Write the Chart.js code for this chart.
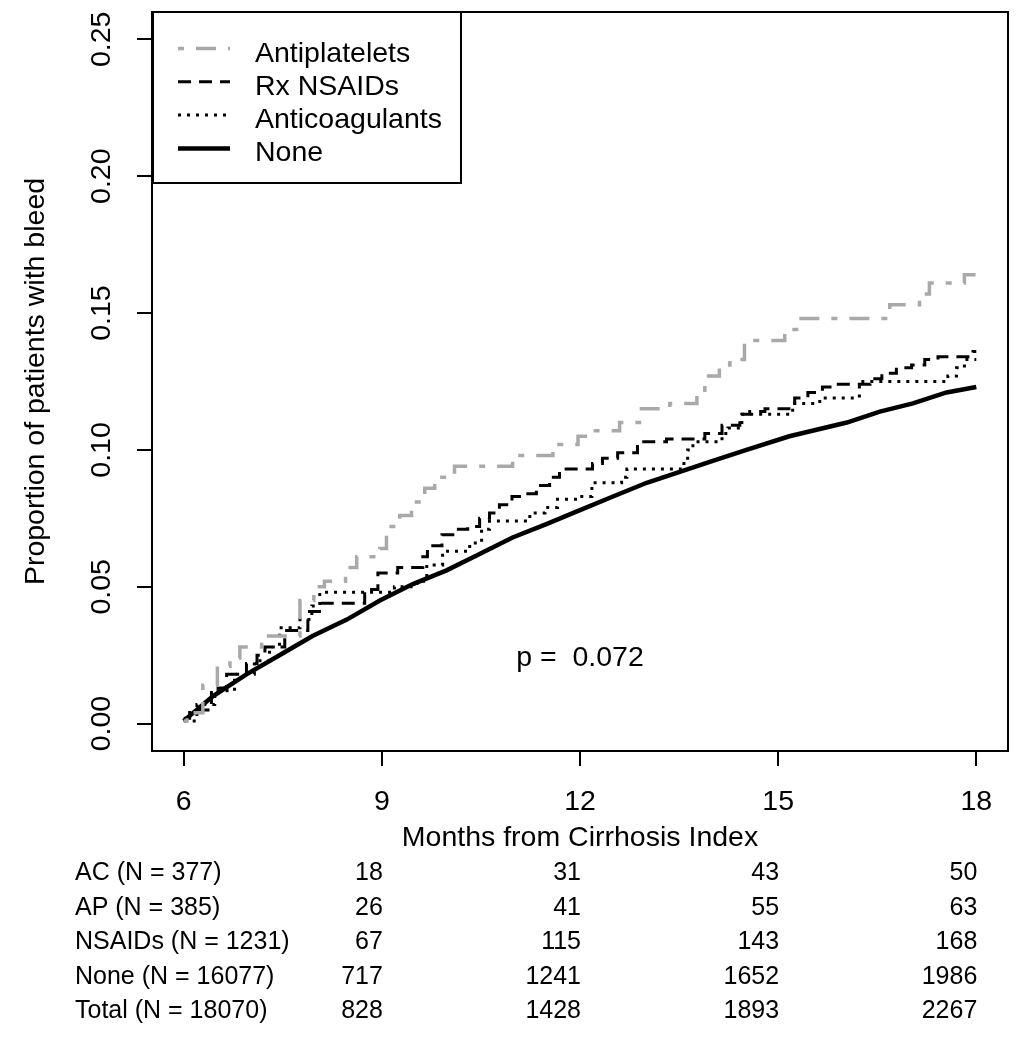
<!DOCTYPE html>
<html>
<head>
<meta charset="utf-8">
<title>Proportion of patients with bleed</title>
<script src="https://cdn.jsdelivr.net/npm/chart.js@4.4.1/dist/chart.umd.min.js"></script>
<style>
  html, body { margin: 0; padding: 0; background: #fff; }
  canvas { display: block; }
</style>
</head>
<body>
<canvas id="bleedChart" width="1017" height="1050"></canvas>
<script>
// step curves (months from index, proportion with bleed)
var apMonths = [6.00, 6.05, 6.29, 6.51, 6.70, 6.85, 7.18, 7.76, 7.97, 8.13, 8.45, 8.62, 8.97, 9.07, 9.27, 9.45, 9.65, 9.80, 10.10, 10.98, 11.59, 11.97, 12.15, 12.60, 12.90, 13.36, 13.77, 13.89, 14.11, 14.27, 14.49, 15.10, 15.28, 16.69, 17.14, 17.29, 17.82, 18.00];
var apValues = [0.001, 0.004, 0.014, 0.021, 0.024, 0.028, 0.032, 0.045, 0.050, 0.052, 0.057, 0.061, 0.064, 0.072, 0.076, 0.081, 0.086, 0.090, 0.094, 0.098, 0.102, 0.105, 0.107, 0.110, 0.115, 0.117, 0.120, 0.127, 0.131, 0.133, 0.140, 0.144, 0.148, 0.153, 0.157, 0.161, 0.164, 0.164];

var nsMonths = [6.00, 6.09, 6.42, 6.65, 6.95, 7.11, 7.23, 7.53, 7.88, 8.10, 8.74, 8.94, 9.24, 9.62, 9.69, 9.91, 10.10, 10.30, 10.48, 10.63, 10.78, 10.97, 11.21, 11.34, 11.54, 11.69, 12.19, 12.34, 12.57, 12.87, 13.31, 13.89, 14.15, 14.42, 14.57, 14.80, 15.25, 15.45, 15.67, 15.86, 16.39, 16.57, 16.79, 17.02, 17.22, 17.42, 17.95, 18.00];
var nsValues = [0.002, 0.005, 0.013, 0.018, 0.022, 0.025, 0.028, 0.034, 0.041, 0.044, 0.049, 0.055, 0.057, 0.061, 0.065, 0.069, 0.071, 0.072, 0.075, 0.077, 0.080, 0.083, 0.084, 0.087, 0.090, 0.093, 0.095, 0.097, 0.099, 0.103, 0.104, 0.106, 0.109, 0.113, 0.114, 0.115, 0.119, 0.121, 0.123, 0.124, 0.126, 0.128, 0.130, 0.131, 0.133, 0.134, 0.136, 0.136];

var acMonths = [6.00, 6.20, 6.47, 6.77, 7.07, 7.30, 7.45, 7.76, 7.94, 8.06, 9.19, 9.53, 9.68, 9.92, 10.33, 10.51, 10.63, 11.24, 11.47, 11.66, 12.00, 12.18, 12.63, 12.71, 13.54, 13.63, 13.71, 14.15, 14.24, 14.45, 15.22, 15.63, 16.23, 17.57, 17.70, 17.82, 18.00];
var acValues = [0.001, 0.007, 0.012, 0.018, 0.023, 0.028, 0.035, 0.038, 0.043, 0.048, 0.050, 0.052, 0.058, 0.063, 0.066, 0.071, 0.074, 0.077, 0.079, 0.082, 0.083, 0.088, 0.090, 0.093, 0.095, 0.100, 0.103, 0.106, 0.108, 0.113, 0.117, 0.119, 0.125, 0.127, 0.130, 0.133, 0.133];

var noneMonths = [6.00, 6.44, 6.95, 7.45, 7.95, 8.47, 8.97, 9.47, 9.98, 10.48, 10.98, 11.50, 12.00, 12.50, 13.01, 13.51, 14.01, 14.52, 15.17, 16.04, 16.54, 17.04, 17.55, 18.00];
var noneValues = [0.001, 0.010, 0.018, 0.025, 0.032, 0.038, 0.045, 0.051, 0.056, 0.062, 0.068, 0.073, 0.078, 0.083, 0.088, 0.092, 0.096, 0.100, 0.105, 0.110, 0.114, 0.117, 0.121, 0.123];

var xTicks = [6, 9, 12, 15, 18];
var yTicks = [0, 0.05, 0.10, 0.15, 0.20, 0.25];

// numbers at risk table under the plot
var riskTimes = [9, 12, 15, 18];
var riskLabels = ["AC (N = 377)", "AP (N = 385)", "NSAIDs (N = 1231)", "None (N = 16077)", "Total (N = 18070)"];
var riskAC = [18, 31, 43, 50];
var riskAP = [26, 41, 55, 63];
var riskNSAIDs = [67, 115, 143, 168];
var riskNone = [717, 1241, 1652, 1986];
var riskTotal = [828, 1428, 1893, 2267];

var pText = "p =  0.072";
var pAt = [12, 0.024];

var FONT = '"Liberation Sans", Arial, sans-serif';
Chart.defaults.font.family = FONT;
Chart.defaults.color = '#000';

function toPoints(months, values) {
    return months.map(function (m, i) { return { x: m, y: values[i] }; });
}

var extras = {
    id: 'extras',
    afterDraw: function (chart) {
        var ctx = chart.ctx, area = chart.chartArea;
        var xs = chart.scales.x, ys = chart.scales.y;
        ctx.save();

        // box round the plot region
        ctx.strokeStyle = '#000';
        ctx.lineWidth = 2;
        ctx.setLineDash([]);
        ctx.strokeRect(area.left, area.top, area.right - area.left, area.bottom - area.top);

        // y tick labels, turned like R does them
        ctx.fillStyle = '#000';
        ctx.font = '28.5px ' + FONT;
        ctx.textAlign = 'center';
        ctx.textBaseline = 'alphabetic';
        yTicks.forEach(function (v) {
            ctx.save();
            ctx.translate(110, ys.getPixelForValue(v));
            ctx.rotate(-Math.PI / 2);
            ctx.fillText(v.toFixed(2), 0, 0);
            ctx.restore();
        });

        // p value
        ctx.textBaseline = 'middle';
        ctx.fillText(pText, xs.getPixelForValue(pAt[0]), ys.getPixelForValue(pAt[1]));

        // legend box in the top left corner
        var bx = area.left + 1, by = area.top, bw = 308, bh = 171;
        ctx.fillStyle = '#fff';
        ctx.fillRect(bx, by, bw, bh);
        ctx.strokeStyle = '#000';
        ctx.lineWidth = 2;
        ctx.strokeRect(bx, by, bw, bh);
        ctx.textAlign = 'left';
        ctx.textBaseline = 'alphabetic';
        chart.data.datasets.forEach(function (ds, i) {
            var base = 61.5 + 33.3 * i;
            ctx.strokeStyle = ds.borderColor;
            ctx.lineWidth = ds.borderWidth;
            ctx.setLineDash(ds.borderDash || []);
            ctx.beginPath();
            ctx.moveTo(178, base - 13);
            ctx.lineTo(230, base - 13);
            ctx.stroke();
            ctx.setLineDash([]);
            ctx.fillStyle = '#000';
            ctx.fillText(ds.label, 255, base);
        });

        // numbers at risk
        var rows = [riskAC, riskAP, riskNSAIDs, riskNone, riskTotal];
        ctx.font = '25px ' + FONT;
        ctx.fillStyle = '#000';
        rows.forEach(function (row, r) {
            var base = 880 + 34.5 * r;
            ctx.textAlign = 'left';
            ctx.fillText(riskLabels[r], 75, base);
            ctx.textAlign = 'right';
            row.forEach(function (n, c) {
                ctx.fillText(String(n), xs.getPixelForValue(riskTimes[c]) + 1, base);
            });
        });

        ctx.restore();
    }
};

new Chart("bleedChart", {
    type: 'line',
    data: {
        datasets: [
            {
                label: "Antiplatelets",
                data: toPoints(apMonths, apValues),
                stepped: true,
                borderColor: "#a9a9a9",
                borderWidth: 3.5,
                borderDash: [6, 12, 20, 12],
                pointRadius: 0,
                fill: false
            },
            {
                label: "Rx NSAIDs",
                data: toPoints(nsMonths, nsValues),
                stepped: true,
                borderColor: "#000",
                borderWidth: 3,
                borderDash: [13, 8],
                pointRadius: 0,
                fill: false
            },
            {
                label: "Anticoagulants",
                data: toPoints(acMonths, acValues),
                stepped: true,
                borderColor: "#000",
                borderWidth: 3,
                borderDash: [3, 6],
                pointRadius: 0,
                fill: false
            },
            {
                label: "None",
                data: toPoints(noneMonths, noneValues),
                borderColor: "#000",
                borderWidth: 4.5,
                tension: 0,
                pointRadius: 0,
                fill: false
            }
        ]
    },
    options: {
        responsive: false,
        animation: false,
        events: [],
        layout: { padding: { top: 12, right: 9, bottom: 195, left: 0 } },
        plugins: {
            legend: { display: false },
            tooltip: { enabled: false }
        },
        scales: {
            x: {
                type: 'linear',
                min: 5.52,
                max: 18.48,
                afterBuildTicks: function (axis) {
                    axis.ticks = xTicks.map(function (v) { return { value: v }; });
                },
                afterFit: function (axis) { axis.height = 104; },
                grid: { drawOnChartArea: false, drawTicks: true, tickLength: 15, color: '#000', lineWidth: 2 },
                border: { display: false },
                ticks: { font: { size: 28.5 }, color: '#000', padding: 19, maxRotation: 0, autoSkip: false },
                title: { display: true, text: 'Months from Cirrhosis Index', font: { size: 28.5 }, color: '#000', padding: 0 }
            },
            y: {
                type: 'linear',
                min: -0.01,
                max: 0.26,
                afterBuildTicks: function (axis) {
                    axis.ticks = yTicks.map(function (v) { return { value: v }; });
                },
                afterFit: function (axis) { axis.width = 152; },
                grid: { drawOnChartArea: false, drawTicks: true, tickLength: 15, color: '#000', lineWidth: 2 },
                border: { display: false },
                ticks: { display: false },
                title: { display: true, text: 'Proportion of patients with bleed', font: { size: 28.5 }, color: '#000', padding: { top: 19, bottom: 0 } }
            }
        }
    },
    plugins: [extras]
});
</script>
</body>
</html>
